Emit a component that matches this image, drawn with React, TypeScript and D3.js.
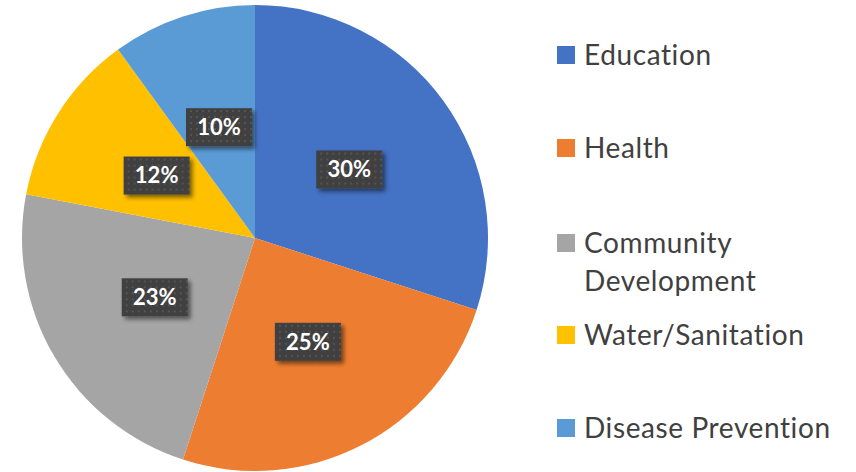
import React from "react";
import * as d3 from "d3";

const categories = ["Education", "Health", "Community Development", "Water/Sanitation", "Disease Prevention"];
const values = [30, 25, 23, 12, 10];
const colors = ["#4472C4", "#ED7D31", "#A5A5A5", "#FFC000", "#5B9BD5"];
const legendLines = [["Education"], ["Health"], ["Community", "Development"], ["Water/Sanitation"], ["Disease Prevention"]];
const legendY = [55, 148, 243, 335, 428];

export default function App() {
  const W = 856, H = 472;
  const cx = 255, cy = 238, r = 233;
  const pie = d3.pie<number>().sort(null).value((d) => d)(values);
  const arc = d3.arc<d3.PieArcDatum<number>>().innerRadius(0).outerRadius(r);
  const labelArc = d3.arc<d3.PieArcDatum<number>>().innerRadius(r * 0.5).outerRadius(r * 0.5);
  const total = d3.sum(values);
  const font = "Lato, 'Open Sans', sans-serif";
  return (
    <svg width={W} height={H} style={{ position: "absolute", left: 0, top: 0 }} fontFamily={font}>
      <defs>
        <pattern id="dots" width="6" height="6" patternUnits="userSpaceOnUse">
          <rect width="6" height="6" fill="#3f3f3f" />
          <rect x="1" y="1" width="2" height="2" fill="#555555" />
        </pattern>
        <filter id="shadow" x="-20%" y="-20%" width="150%" height="150%">
          <feGaussianBlur in="SourceAlpha" stdDeviation="2" />
          <feOffset dx="3" dy="3" result="b" />
          <feComponentTransfer><feFuncA type="linear" slope="0.5" /></feComponentTransfer>
          <feMerge><feMergeNode /><feMergeNode in="SourceGraphic" /></feMerge>
        </filter>
      </defs>
      <rect width={W} height={H} fill="#ffffff" />
      <g transform={`translate(${cx},${cy})`}>
        {pie.map((p, i) => (
          <path key={i} d={arc(p) || ""} fill={colors[i]} />
        ))}
        {pie.map((p, i) => {
          const [x, y] = labelArc.centroid(p);
          const bw = 66, bh = 38;
          return (
            <g key={"l" + i} transform={`translate(${x},${y})`}>
              <rect x={-bw / 2} y={-bh / 2} width={bw} height={bh} fill="url(#dots)" filter="url(#shadow)" />
              <text textAnchor="middle" dy="0.36em" fill="#ffffff" fontSize={22} fontWeight="bold">
                {Math.round((values[i] / total) * 100)}%
              </text>
            </g>
          );
        })}
      </g>
      {categories.map((c, i) => (
        <g key={"lg" + i}>
          <rect x={557} y={legendY[i] - 9} width={18} height={18} fill={colors[i]} />
          {legendLines[i].map((t, j) => (
            <text key={j} x={584} y={legendY[i] + j * 38} dy="0.35em" fontSize={28} letterSpacing={0.6} fill="#404040">
              {t}
            </text>
          ))}
        </g>
      ))}
    </svg>
  );
}
